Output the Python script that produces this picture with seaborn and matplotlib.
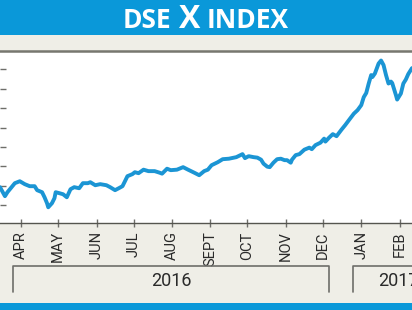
import matplotlib
matplotlib.use("Agg")
import matplotlib.pyplot as plt
from matplotlib.lines import Line2D
from matplotlib.patches import Rectangle
import pandas as pd
import seaborn as sns

# ---- data ----
dates = [
    "2016-03-15", "2016-03-19", "2016-03-21", "2016-03-27", "2016-03-31", "2016-04-04",
    "2016-04-08", "2016-04-12", "2016-04-14", "2016-04-18", "2016-04-20", "2016-04-22",
    "2016-04-23", "2016-04-26", "2016-04-28", "2016-04-29", "2016-05-02", "2016-05-05",
    "2016-05-08", "2016-05-11", "2016-05-14", "2016-05-18", "2016-05-21", "2016-05-25",
    "2016-05-27", "2016-05-31", "2016-06-04", "2016-06-09", "2016-06-12", "2016-06-16",
    "2016-06-19", "2016-06-22", "2016-06-24", "2016-06-26", "2016-06-30", "2016-07-02",
    "2016-07-05", "2016-07-09", "2016-07-13", "2016-07-18", "2016-07-22", "2016-07-24",
    "2016-07-28", "2016-07-31", "2016-08-05", "2016-08-10", "2016-08-14", "2016-08-19",
    "2016-08-23", "2016-08-27", "2016-08-30", "2016-09-02", "2016-09-07", "2016-09-11",
    "2016-09-16", "2016-09-22", "2016-09-27", "2016-09-29", "2016-10-02", "2016-10-06",
    "2016-10-09", "2016-10-12", "2016-10-14", "2016-10-17", "2016-10-19", "2016-10-22",
    "2016-10-25", "2016-10-28", "2016-10-31", "2016-11-02", "2016-11-05", "2016-11-06",
    "2016-11-09", "2016-11-12", "2016-11-16", "2016-11-20", "2016-11-22", "2016-11-25",
    "2016-11-29", "2016-12-02", "2016-12-03", "2016-12-06", "2016-12-09", "2016-12-12",
    "2016-12-16", "2016-12-19", "2016-12-22", "2016-12-26", "2016-12-29", "2017-01-01",
    "2017-01-03", "2017-01-05", "2017-01-07", "2017-01-09", "2017-01-10", "2017-01-12",
    "2017-01-15", "2017-01-17", "2017-01-19", "2017-01-21", "2017-01-23", "2017-01-25",
    "2017-01-26", "2017-01-29", "2017-01-30", "2017-02-02", "2017-02-04", "2017-02-06",
    "2017-02-08", "2017-02-11",
]
index_values = [
    4386, 4293, 4334, 4427, 4447, 4417,
    4396, 4396, 4355, 4334, 4282, 4221,
    4179, 4221, 4272, 4334, 4324, 4313,
    4282, 4365, 4386, 4375, 4427, 4427,
    4437, 4406, 4417, 4406, 4386, 4355,
    4375, 4396, 4447, 4499, 4520, 4540,
    4530, 4566, 4551, 4551, 4535, 4525,
    4576, 4561, 4566, 4592, 4566, 4535,
    4509, 4551, 4566, 4612, 4643, 4674,
    4679, 4695, 4726, 4685, 4705, 4695,
    4690, 4669, 4628, 4597, 4592, 4638,
    4674, 4679, 4664, 4664, 4638, 4669,
    4716, 4726, 4772, 4793, 4777, 4819,
    4844, 4886, 4855, 4896, 4932, 4911,
    4978, 5025, 5076, 5143, 5179, 5231,
    5313, 5355, 5453, 5540, 5520, 5556,
    5659, 5690, 5643, 5540, 5453, 5473,
    5458, 5334, 5288, 5350, 5453, 5494,
    5551, 5612,
]
month_ticks = ["2016-04-01", "2016-05-01", "2016-06-01", "2016-07-01", "2016-08-01",
               "2016-09-01", "2016-10-01", "2016-11-01", "2016-12-01", "2017-01-01",
               "2017-02-01"]
month_labels = ["APR", "MAY", "JUN", "JUL", "AUG", "SEPT", "OCT", "NOV", "DEC", "JAN", "FEB"]
year_labels = ["2016", "2017"]
y_ticks = [4200, 4400, 4600, 4800, 5000, 5200, 5400, 5600]
title_parts = ["DSE", "X", "INDEX"]

# ---- styling ----
BLUE = "#0A98D9"
LINE = "#1B95D4"
BEIGE = "#EFEEE7"
GREY = "#6E6E6A"
TXT = "#2A2A2A"
NARROW = ["Roboto", "DejaVu Sans"]

df = pd.DataFrame({"date": pd.to_datetime(dates), "value": index_values})

sns.set_theme(style="white")
W, H = 412, 310
fig = plt.figure(figsize=(W / 100, H / 100), dpi=100, facecolor=BEIGE)

def fy(px):
    return 1 - px / H

ax_top, ax_bot = 51, 223
ax = fig.add_axes([0, fy(ax_bot), 1, (ax_bot - ax_top) / H])
ax.set_facecolor("white")
sns.lineplot(data=df, x="date", y="value", ax=ax, color=LINE, linewidth=2.8)

ax.set_xlim(pd.Timestamp("2016-03-15"), pd.Timestamp("2017-02-11"))
ax.set_ylim(4017, 5788)
ax.set_xlabel("")
ax.set_ylabel("")
ax.set_yticks(y_ticks)
ax.set_yticklabels([])
ax.set_xticks(pd.to_datetime(month_ticks))
ax.set_xticklabels(month_labels, rotation=90, family=NARROW,
                   fontsize=10.5, color=TXT, va="top", ha="center")
ax.tick_params(axis="y", direction="in", length=4, width=1, color=GREY, left=True)
ax.tick_params(axis="x", direction="inout", length=6, width=1, color=GREY, bottom=True, pad=3)
for side in ["left", "right"]:
    ax.spines[side].set_visible(False)
ax.spines["top"].set_color("#77776f")
ax.spines["top"].set_linewidth(1.8)
ax.spines["bottom"].set_color("#55554f")
ax.spines["bottom"].set_linewidth(1.0)

# title bar
fig.patches.append(Rectangle((0, fy(35)), 1, 35 / H, transform=fig.transFigure,
                             facecolor=BLUE, edgecolor="none", zorder=0))
title_x = [147, 190, 248]
title_size = [19, 23, 19]
for part, xc, fs in zip(title_parts, title_x, title_size):
    fig.text(xc / W, fy(27.5), part, ha="center", va="baseline", color="white",
             fontsize=fs, fontweight="bold", family=["Open Sans", "DejaVu Sans"])

# bottom bar
fig.patches.append(Rectangle((0, 0), 1, 7 / H, transform=fig.transFigure,
                             facecolor=BLUE, edgecolor="none", zorder=0))

# year brackets
br_top, br_bot = 266, 292
def bracket(x0, x1, right_side=True):
    xs = [x0 / W, x0 / W, x1 / W] + ([x1 / W] if right_side else [])
    ys = [fy(br_bot), fy(br_top), fy(br_top)] + ([fy(br_bot)] if right_side else [])
    fig.lines.append(Line2D(xs, ys, transform=fig.transFigure, color=GREY, linewidth=1.2))

bracket(13, 329)
bracket(353, 420, right_side=False)
fig.text(171 / W, fy(281.5), year_labels[0], ha="center", va="center", color=TXT,
         fontsize=13, family=NARROW)
fig.text(398 / W, fy(281.5), year_labels[1], ha="center", va="center", color=TXT,
         fontsize=13, family=NARROW)

fig.savefig("out.png", dpi=100, facecolor=fig.get_facecolor())
